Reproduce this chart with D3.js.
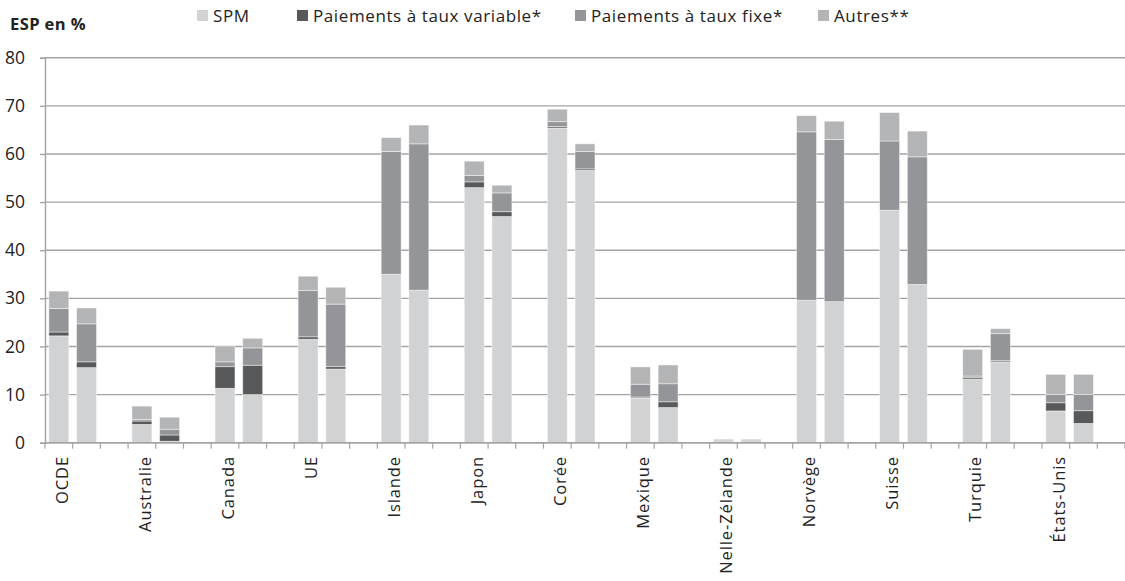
<!DOCTYPE html>
<html lang="fr">
<head>
<meta charset="utf-8">
<script src="https://cdn.jsdelivr.net/npm/d3@7"></script>
<style>
  html, body { margin: 0; padding: 0; background: #fff; }
  svg { display: block; font-family: "Open Sans", sans-serif; }
</style>
</head>
<body>
<svg id="chart" width="1125" height="581"></svg>
<script>
// Pays (deux barres par pays : première et seconde période)
const countries = ["OCDE", "Australie", "Canada", "UE", "Islande", "Japon", "Corée",
  "Mexique", "Nelle-Zélande", "Norvège", "Suisse", "Turquie", "États-Unis"];

// ESP en % — composantes empilées, dans l'ordre des barres (2 par pays)
const spm = [22.2, 15.6, 3.8, 0.3, 11.3, 10.0, 21.5, 15.3, 35.0, 31.7, 53.0, 47.0,
  65.4, 56.6, 9.3, 7.3, 0.1, 0.1, 29.6, 29.3, 48.3, 32.9, 13.2, 16.8, 6.6, 4.0];
const tauxVariable = [0.8, 1.2, 0.7, 1.3, 4.5, 6.1, 0.5, 0.5, 0, 0, 1.2, 1.0,
  0.3, 0.3, 0.2, 1.2, 0.1, 0.1, 0, 0, 0, 0, 0.3, 0.25, 1.7, 2.65];
const tauxFixe = [4.9, 7.9, 0.35, 1.2, 1.0, 3.6, 9.6, 13.0, 25.5, 30.4, 1.3, 3.9,
  1.0, 3.6, 2.65, 3.75, 0.2, 0.2, 35.0, 33.7, 14.4, 26.5, 0.35, 5.6, 1.7, 3.35];
const autres = [3.6, 3.3, 2.75, 2.5, 3.3, 2.0, 3.0, 3.5, 2.9, 3.9, 3.0, 1.6,
  2.6, 1.6, 3.6, 3.9, 0.3, 0.3, 3.35, 3.8, 5.9, 5.35, 5.55, 1.05, 4.2, 4.2];

const seriesNames = ["SPM", "Paiements à taux variable*", "Paiements à taux fixe*", "Autres**"];
const seriesKeys = ["spm", "variable", "fixe", "autres"];
const seriesColors = ["#d1d2d4", "#58595b", "#939598", "#b3b4b6"];
const yTicks = [0, 10, 20, 30, 40, 50, 60, 70, 80];

// Table des barres : chaque pays occupe trois emplacements (2 barres + 1 vide)
const slotsPerCountry = 3;
const rows = spm.map((v, i) => ({
  slot: Math.floor(i / 2) * slotsPerCountry + (i % 2),
  spm: v, variable: tauxVariable[i], fixe: tauxFixe[i], autres: autres[i]
}));
const nSlots = countries.length * slotsPerCountry;

const svg = d3.select("#chart");
const plotLeft = 45, plotRight = 1125, plotTop = 57.7, plotBottom = 442.7;

const x = d3.scaleBand()
  .domain(d3.range(nSlots))
  .range([plotLeft, plotRight])
  .paddingInner(0.28)
  .paddingOuter(0.14);
const y = d3.scaleLinear().domain([0, 80]).range([plotBottom, plotTop]);

const gridColor = "#a4a4a4";

// Grille horizontale
svg.append("g")
  .selectAll("line")
  .data(yTicks)
  .join("line")
  .attr("x1", plotLeft).attr("x2", plotRight)
  .attr("y1", d => y(d)).attr("y2", d => y(d))
  .attr("stroke", gridColor)
  .attr("stroke-width", 1.4);

// Axe vertical
const yAxis = d3.axisLeft(y).tickValues(yTicks).tickSize(5).tickPadding(15);
const gy = svg.append("g").attr("transform", `translate(${plotLeft},0)`).call(yAxis);
gy.select(".domain").attr("stroke", gridColor).attr("stroke-width", 1.4);
gy.selectAll(".tick line").attr("stroke", gridColor).attr("stroke-width", 1.4);
gy.selectAll(".tick text")
  .attr("fill", "#222")
  .style("font-size", "17.5px")
  .style("font-family", "'Open Sans', sans-serif");

// Barres empilées
const stack = d3.stack().keys(seriesKeys);
const stacked = stack(rows);
svg.append("g")
  .selectAll("g")
  .data(stacked)
  .join("g")
  .attr("fill", (d, i) => seriesColors[i])
  .selectAll("rect")
  .data(d => d)
  .join("rect")
  .attr("x", d => x(d.data.slot))
  .attr("width", x.bandwidth())
  .attr("y", d => y(d[1]))
  .attr("height", d => Math.max(0, y(d[0]) - y(d[1])))
  .attr("stroke", "rgba(255,255,255,0.55)")
  .attr("stroke-width", 0.8);

// Axe horizontal et graduations entre emplacements
const step = x.step();
const x0 = x(0) - x.paddingOuter() * step;
svg.append("line")
  .attr("x1", plotLeft).attr("x2", plotRight)
  .attr("y1", plotBottom).attr("y2", plotBottom)
  .attr("stroke", gridColor).attr("stroke-width", 1.6);
svg.append("g")
  .selectAll("line")
  .data(d3.range(nSlots + 1))
  .join("line")
  .attr("x1", i => x0 + i * step).attr("x2", i => x0 + i * step)
  .attr("y1", plotBottom).attr("y2", plotBottom + 6)
  .attr("stroke", gridColor).attr("stroke-width", 1.2);

// Étiquettes des pays (verticales, sous la première barre)
svg.append("g")
  .selectAll("text")
  .data(countries)
  .join("text")
  .attr("transform", (d, i) =>
    `translate(${x(i * slotsPerCountry) + x.bandwidth() / 2 + 3},456) rotate(-90)`)
  .attr("text-anchor", "end")
  .attr("dy", "0.35em")
  .attr("fill", "#222")
  .style("font-size", "16.5px")
  .style("letter-spacing", "0.9px")
  .text(d => d);

// Titre de l'axe
svg.append("text")
  .attr("x", 10).attr("y", 30)
  .attr("fill", "#222")
  .style("font-size", "16.5px")
  .style("font-weight", "bold")
  .style("letter-spacing", "0.4px")
  .text("ESP en %");

// Légende
const legendX = [197, 297, 575, 818];
const legend = svg.append("g")
  .selectAll("g")
  .data(seriesNames)
  .join("g")
  .attr("transform", (d, i) => `translate(${legendX[i]},0)`);
legend.append("rect")
  .attr("x", 0).attr("y", 10).attr("width", 11).attr("height", 11)
  .attr("fill", (d, i) => seriesColors[i]);
legend.append("text")
  .attr("x", 16).attr("y", 22)
  .attr("fill", "#222")
  .style("font-size", "17px")
  .style("letter-spacing", "0.6px")
  .text(d => d);
</script>
</body>
</html>
